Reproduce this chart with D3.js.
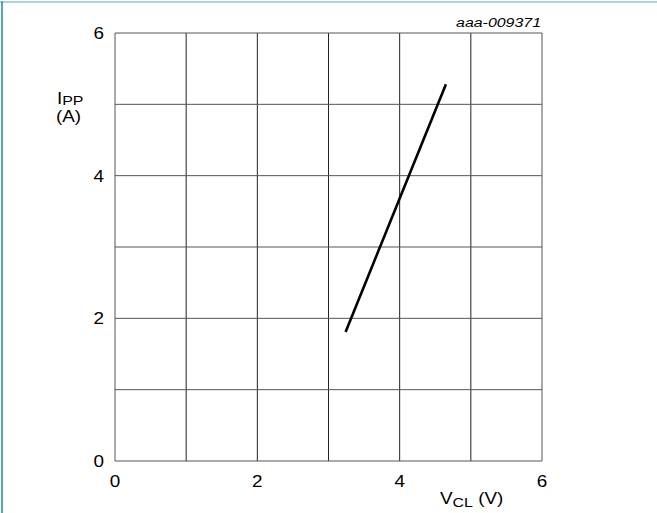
<!DOCTYPE html>
<html>
<head>
<meta charset="utf-8">
<script src="https://cdn.jsdelivr.net/npm/d3@7"></script>
<style>
  body { margin: 0; background: #fff; }
  svg { display: block; font-family: "Liberation Sans", Arial, sans-serif; }
</style>
</head>
<body>
<div id="chart"></div>
<script>
// curve end points (V_CL in V, I_PP in A)
var vcl = [3.24, 4.65];
var ipp = [1.81, 5.28];
var xTicks = [0, 2, 4, 6];
var yTicks = [0, 2, 4, 6];
var gridValues = [0, 1, 2, 3, 4, 5, 6];

var W = 657, H = 513;
var plotLeft = 115, plotTop = 33, plotRight = 542, plotBottom = 461;
var stretch = 1.18; // the lettering in the figure is a bit wider than Arial

var svg = d3.select("#chart").append("svg")
    .attr("width", W)
    .attr("height", H);

// frame of the figure
svg.append("line").attr("x1", 0).attr("x2", W).attr("y1", 2).attr("y2", 2)
    .attr("stroke", "#8cc7cb").attr("stroke-width", 1.5);
svg.append("line").attr("x1", 2).attr("x2", 2).attr("y1", 1.3).attr("y2", H)
    .attr("stroke", "#1e8d91").attr("stroke-width", 1.5);

var x = d3.scaleLinear().domain([0, 6]).range([plotLeft, plotRight]);
var y = d3.scaleLinear().domain([0, 6]).range([plotBottom, plotTop]);

function label(px, py, anchor, size) {
    return svg.append("text")
        .attr("transform", "translate(" + px + "," + py + ") scale(" + stretch + ",1)")
        .attr("text-anchor", anchor)
        .attr("font-size", size + "px")
        .attr("fill", "#000");
}

// grid
svg.append("g").selectAll("line")
    .data(gridValues)
    .enter()
    .append("line")
    .attr("x1", function(d) { return x(d); })
    .attr("x2", function(d) { return x(d); })
    .attr("y1", y(0))
    .attr("y2", y(6))
    .attr("stroke", function(d) { return (d == 0 || d == 6) ? "#555" : "#222"; })
    .attr("stroke-width", 1);

svg.append("g").selectAll("line")
    .data(gridValues)
    .enter()
    .append("line")
    .attr("x1", x(0))
    .attr("x2", x(6))
    .attr("y1", function(d) { return y(d); })
    .attr("y2", function(d) { return y(d); })
    .attr("stroke", "#555")
    .attr("stroke-width", 1);

// tick labels
xTicks.forEach(function(d) {
    label(x(d), 487, "middle", 16).text(d);
});
yTicks.forEach(function(d) {
    label(104, y(d) + 6, "end", 16).text(d);
});

// curve
var pts = vcl.map(function(v, i) { return [v, ipp[i]]; });
svg.append("path")
    .datum(pts)
    .attr("d", d3.line()
        .x(function(d) { return x(d[0]); })
        .y(function(d) { return y(d[1]); }))
    .attr("fill", "none")
    .attr("stroke", "#000")
    .attr("stroke-width", 2.6);

// axis titles
var yt = label(57, 104, "start", 16);
yt.append("tspan").text("I");
yt.append("tspan").attr("font-size", "13.5px").attr("dy", 1).text("PP");

label(56, 122, "start", 16).text("(A)");

var xt = label(440, 504, "start", 16);
xt.append("tspan").text("V");
xt.append("tspan").attr("font-size", "13.5px").attr("dy", 3).text("CL");
xt.append("tspan").attr("dy", -3).text(" (V)");

// figure code
label(541, 27, "end", 13.5)
    .attr("font-style", "italic")
    .text("aaa-009371");
</script>
</body>
</html>
